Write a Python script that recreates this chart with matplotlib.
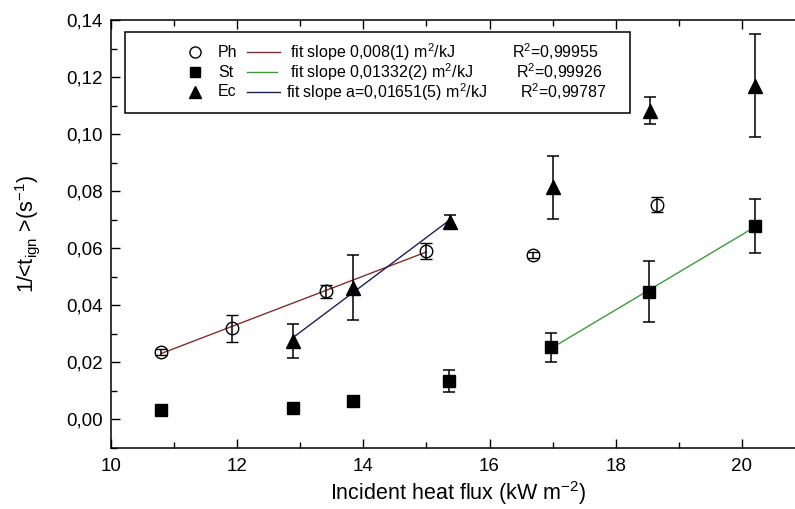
import numpy as np
import matplotlib
matplotlib.use("Agg")
import matplotlib.pyplot as plt
from matplotlib.patches import Rectangle
from matplotlib.ticker import FuncFormatter, MultipleLocator

plt.rcParams['font.family'] = ['Liberation Sans', 'DejaVu Sans']
plt.rcParams['mathtext.fontset'] = 'custom'
plt.rcParams['mathtext.rm'] = 'Liberation Sans'
plt.rcParams['mathtext.it'] = 'Liberation Sans:italic'

# Ph (open circles)
ph_x = [10.80, 11.91, 13.40, 15.00, 16.69, 18.65]
ph_y = [0.0237, 0.0319, 0.0450, 0.0590, 0.0576, 0.0752]
ph_err = [0.0010, 0.0047, 0.0023, 0.0028, 0.0010, 0.0026]
ph_fit_n = 4  # first four points used in the fit

# St (filled squares)
st_x = [10.80, 12.88, 13.83, 15.36, 16.98, 18.53, 20.21]
st_y = [0.0033, 0.0039, 0.0064, 0.0136, 0.0253, 0.0448, 0.0678]
st_err = [0.0, 0.0, 0.0, 0.0039, 0.0050, 0.0108, 0.0094]
st_fit_from = 4  # last three points used in the fit

# Ec (filled triangles)
ec_x = [12.88, 13.84, 15.37, 17.01, 18.54, 20.21]
ec_y = [0.0276, 0.0462, 0.0693, 0.0814, 0.1082, 0.1170]
ec_err = [0.0060, 0.0113, 0.0024, 0.0110, 0.0047, 0.0180]
ec_fit_n = 3

legend_names = ["Ph", "St", "Ec"]
legend_fits = ["fit slope 0,008(1) m$^2$/kJ",
               "fit slope 0,01332(2) m$^2$/kJ",
               "fit slope a=0,01651(5) m$^2$/kJ"]
legend_r2 = ["R$^2$=0,99955", "R$^2$=0,99926", "R$^2$=0,99787"]

ph_col = "#7e3030"
st_col = "#3f9a3f"
ec_col = "#1e1e5a"

fig = plt.figure(figsize=(7.95, 5.09), dpi=100)
ax = fig.add_axes([111/795, 61/509, 694/795, 428/509])

eb = dict(ecolor="black", elinewidth=1.1, capsize=4.5, capthick=1.1, ls="none")
ax.errorbar(ph_x, ph_y, yerr=ph_err, marker="o", ms=9, mfc="none", mec="black", mew=1.0, **eb)
ax.errorbar(st_x, st_y, yerr=st_err, marker="s", ms=8, mfc="black", mec="black", **eb)
ax.errorbar(ec_x, ec_y, yerr=ec_err, marker="^", ms=10.5, mfc="black", mec="black", **eb)

# linear fits
def fit_line(xs, ys, color):
    xs = np.array(xs)
    k, b = np.polyfit(xs, ys, 1)
    xx = np.array([xs.min(), xs.max()])
    ax.plot(xx, k * xx + b, color=color, lw=1.0, zorder=1)

fit_line(ph_x[:ph_fit_n], ph_y[:ph_fit_n], ph_col)
fit_line(st_x[st_fit_from:], st_y[st_fit_from:], st_col)
fit_line(ec_x[:ec_fit_n], ec_y[:ec_fit_n], ec_col)

ax.set_xlim(10, 21)
ax.set_ylim(-0.01, 0.14)
ax.xaxis.set_major_locator(MultipleLocator(2))
ax.xaxis.set_minor_locator(MultipleLocator(1))
ax.yaxis.set_major_locator(MultipleLocator(0.02))
ax.yaxis.set_minor_locator(MultipleLocator(0.01))
ax.yaxis.set_major_formatter(FuncFormatter(lambda v, p: f"{v:.2f}".replace(".", ",")))
ax.xaxis.set_major_formatter(FuncFormatter(lambda v, p: f"{v:.0f}"))
ax.tick_params(which="both", direction="in", top=True, right=True, labelsize=13.5, width=1.0)
ax.tick_params(which="major", length=6.5)
ax.tick_params(which="minor", length=4)
ax.tick_params(axis="x", which="major", pad=7)
ax.tick_params(axis="y", which="major", pad=6)
for s in ax.spines.values():
    s.set_linewidth(1.1)

ax.set_xlabel("Incident heat flux (kW m$^{-2}$)", fontsize=15.5)
ax.xaxis.set_label_coords(0.5, -0.072)
ax.set_ylabel(r"1/<t$_{\mathrm{ign}}$ >(s$^{-1}$)", fontsize=15.5)
ax.yaxis.set_label_coords(-0.10, 0.5)

# legend box
ax.add_patch(Rectangle((0.020, 0.783), 0.728, 0.189, transform=ax.transAxes,
                       fc="white", ec="black", lw=1.1, zorder=5))
rows_y = [0.925, 0.8785, 0.832]
marks = [dict(marker="o", mfc="none", ms=8), dict(marker="s", mfc="black", ms=7),
         dict(marker="^", mfc="black", ms=9)]
cols = [ph_col, st_col, ec_col]
line_end = [0.2435, 0.239, 0.2435]
fit_start = [0.258, 0.258, 0.252]
r2_start = [0.578, 0.584, 0.589]
for i in range(3):
    y = rows_y[i]
    ax.plot([0.121], [y], transform=ax.transAxes, ls="none", mec="black",
            clip_on=False, zorder=6, **marks[i])
    ax.text(0.154, y, legend_names[i], transform=ax.transAxes, fontsize=11.5,
            va="center", zorder=6)
    ax.plot([0.196, line_end[i]], [y, y], transform=ax.transAxes, color=cols[i], lw=1.0,
            zorder=6)
    ax.text(fit_start[i], y, legend_fits[i], transform=ax.transAxes, fontsize=11.5,
            va="center", zorder=6)
    ax.text(r2_start[i], y, legend_r2[i], transform=ax.transAxes, fontsize=11.5,
            va="center", zorder=6)

fig.savefig("out.png", dpi=100)
